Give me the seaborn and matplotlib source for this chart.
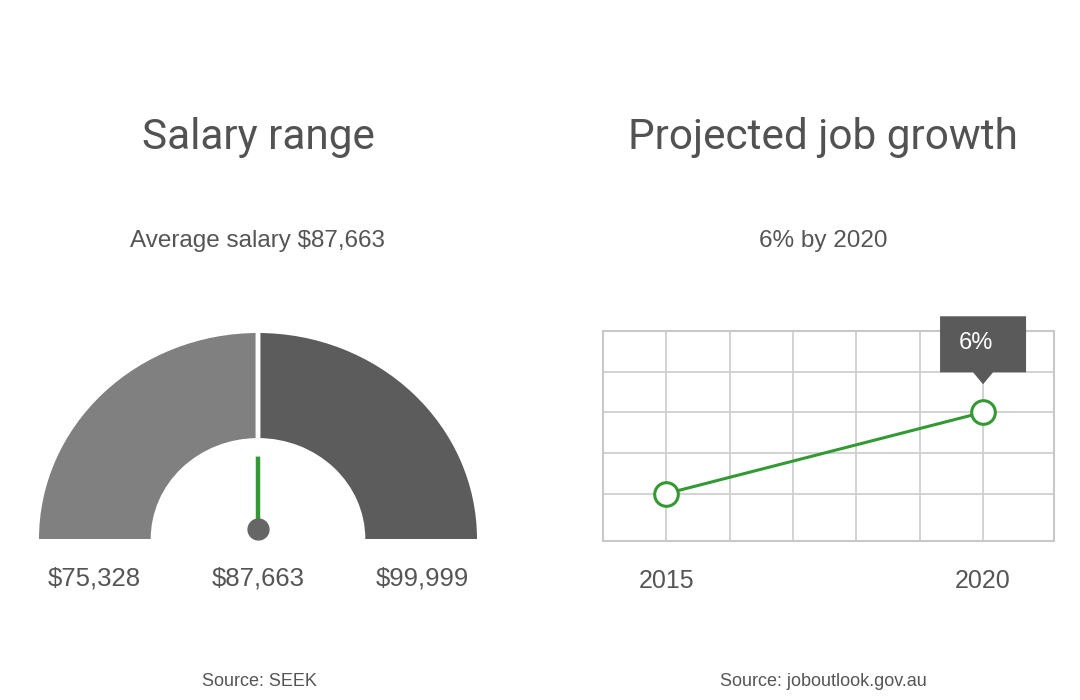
import numpy as np
import pandas as pd
import matplotlib
matplotlib.use("Agg")
import matplotlib.pyplot as plt
import matplotlib.transforms as mtransforms
from matplotlib.patches import Wedge, Polygon
import seaborn as sns

# salary gauge data
SALARY_MIN = 75328
SALARY_AVG = 87663
SALARY_MAX = 99999
salary_labels = ["$75,328", "$87,663", "$99,999"]

# job growth data
years = [2015, 2020]
growth = [0, 6]
growth_label = "6%"

GREEN = "#339933"
TEXT = "#555555"

sns.set_style("white")
plt.rcParams["font.family"] = ["Liberation Sans", "DejaVu Sans"]

fig = plt.figure(figsize=(10.8, 7), dpi=100)
fig.patch.set_facecolor("white")

# ---- titles ----
for x, s in [(258, "Salary range"), (823, "Projected job growth")]:
    fig.text(x / 1080, 1 - 137 / 700, s, ha="center", va="center",
             fontsize=30.5, color="#525252", family=["Roboto", "DejaVu Sans"])
fig.text(258 / 1080, 1 - 241 / 700, f"Average salary ${SALARY_AVG:,}",
         ha="center", va="center", fontsize=17.5, color=TEXT)
fig.text(823 / 1080, 1 - 241 / 700, f"{growth_label} by {years[-1]}",
         ha="center", va="center", fontsize=17.5, color=TEXT)
fig.text(259 / 1080, 1 - 681 / 700, "Source: SEEK", ha="center", va="center",
         fontsize=13, color=TEXT)
fig.text(823 / 1080, 1 - 682 / 700, "Source: joboutlook.gov.au", ha="center",
         va="center", fontsize=13, color=TEXT)

# ---- gauge ----
ax1 = fig.add_axes([39 / 1080, 161 / 700, 438 / 1080, 206 / 700])
ax1.set_xlim(-1, 1)
ax1.set_ylim(0, 1)
ax1.axis("off")


def to_angle(v):
    return 180 - 180 * (v - SALARY_MIN) / (SALARY_MAX - SALARY_MIN)


a_avg = to_angle(SALARY_AVG)
ax1.add_patch(Wedge((0, 0), 1, a_avg, to_angle(SALARY_MIN), width=0.51,
                    facecolor="#808080", edgecolor="none"))
ax1.add_patch(Wedge((0, 0), 1, to_angle(SALARY_MAX), a_avg, width=0.51,
                    facecolor="#5c5c5c", edgecolor="none"))
# separator at the average
rad = np.deg2rad(a_avg)
ax1.plot([0.49 * np.cos(rad), np.cos(rad)], [0.49 * np.sin(rad), np.sin(rad)],
         color="white", lw=3.5, solid_capstyle="butt")
# needle
piv = 0.05
ax1.plot([0, 0.35 * np.cos(rad)], [piv, piv + 0.35 * np.sin(rad)],
         color=GREEN, lw=3.2, solid_capstyle="butt")
ax1.plot(0, piv, "o", color="#666666", markersize=15, clip_on=False)

for xv, lab in zip([-0.75, 0, 0.75], salary_labels):
    ax1.text(xv, -0.19, lab, ha="center", va="center", fontsize=18.5,
             color=TEXT, clip_on=False)

# ---- job growth line ----
ax2 = fig.add_axes([603 / 1080, 159 / 700, 451 / 1080, 210 / 700])
df = pd.DataFrame({"year": years, "growth": growth})
sns.lineplot(data=df, x="year", y="growth", ax=ax2, color=GREEN, lw=2.2,
             marker="o", markersize=17, markerfacecolor="white",
             markeredgecolor=GREEN, markeredgewidth=2.2, zorder=5,
             clip_on=False)
ax2.set_xlim(2014, 2021.12)
ax2.set_ylim(-3.5, 12)
ax2.set_xticks(range(2015, 2021))
ax2.set_xticklabels(["2015", "", "", "", "", "2020"])
ax2.set_yticks([0, 3, 6, 9])
ax2.set_yticklabels([])
ax2.tick_params(length=0, pad=20, labelsize=18, labelcolor=TEXT)
ax2.grid(True, color="#cfcfcf", lw=1.3)
ax2.set_xlabel("")
ax2.set_ylabel("")
for sp in ax2.spines.values():
    sp.set_color("#c8c8c8")
    sp.set_linewidth(1.5)

# tooltip anchored to the last point (shape sized in inches)
trans = fig.dpi_scale_trans + mtransforms.ScaledTranslation(
    years[-1], growth[-1], ax2.transData)
tip = Polygon([(-0.43, 0.40), (-0.10, 0.40), (0, 0.28), (0.10, 0.40),
               (0.43, 0.40), (0.43, 0.96), (-0.43, 0.96)], closed=True,
              facecolor="#5a5a5a", edgecolor="none", transform=trans,
              clip_on=False, zorder=6)
ax2.add_patch(tip)
ax2.text(-0.07, 0.69, growth_label, transform=trans, ha="center", va="center",
         fontsize=17, color="white", zorder=7)

fig.savefig("out.png", dpi=100)
